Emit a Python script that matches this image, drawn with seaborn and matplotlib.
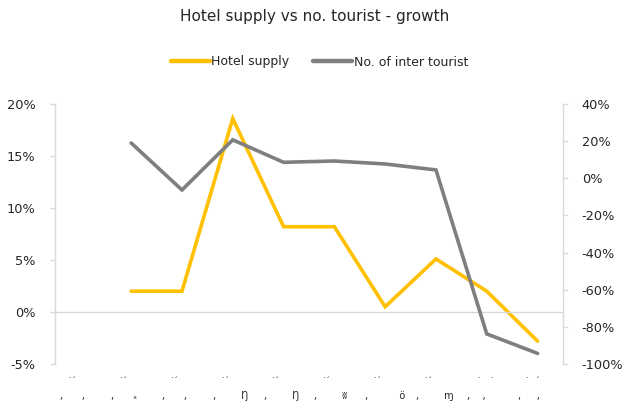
import numpy as np
import pandas as pd
import seaborn as sns
import matplotlib
matplotlib.use("Agg")
import matplotlib.pyplot as plt
from matplotlib.ticker import FixedLocator, FuncFormatter
from matplotlib.lines import Line2D

# ---- data -------------------------------------------------------------
periods = list(range(10))
hotel_supply = [np.nan, 2.0, 2.0, 18.6, 8.2, 8.2, 0.5, 5.1, 2.0, -2.8]        # % growth (left axis)
inter_tourist = [np.nan, 19.0, -6.3, 20.7, 8.6, 9.3, 7.7, 4.5, -83.8, -94.3]  # % growth (right axis)

# category labels, drawn in two rows below the plot
label_top = ["˙ˊ", "˙ˊ", "˙ˊ", "˙ˊ", "˙ˊ", "˙ˊ", "˙ˊ", "˙ˊ", " ˙   ˙", "˙  ˊ"]
label_bottom = [",      ,", ",      ₓ", ",      ,", ",        Ŋ", ",        Ŋ",
                ",        ʬ", ",          ö", ",        ɱ", ",    ,", ",     ,"]

left_ticks = [-5, 0, 5, 10, 15, 20]
right_ticks = [-100, -80, -60, -40, -20, 0, 20, 40]

title = "Hotel supply vs no. tourist - growth"
series_names = ["Hotel supply", "No. of inter tourist"]

# ---- style ------------------------------------------------------------
sns.set_style("white")
plt.rcParams["font.family"] = ["DejaVu Sans"]
YELLOW = "#FFC000"
GREY = "#7F7F7F"
AXIS = "#D9D9D9"
TEXT = "#262626"

df = pd.DataFrame({"period": periods, "hotel": hotel_supply, "tourist": inter_tourist})

fig = plt.figure(figsize=(6.29, 4.19), dpi=100)
ax = fig.add_axes([0.0874, 0.1313, 0.8076, 0.6205])
ax2 = ax.twinx()

sns.lineplot(data=df, x="period", y="hotel", ax=ax, color=YELLOW, linewidth=2.6,
             solid_joinstyle="miter", legend=False)
sns.lineplot(data=df, x="period", y="tourist", ax=ax2, color=GREY, linewidth=2.6,
             solid_joinstyle="miter", legend=False)

ax.set_xlim(-0.5, len(periods) - 0.5)
ax.set_ylim(left_ticks[0], left_ticks[-1])
ax2.set_ylim(right_ticks[0], right_ticks[-1])

pct = FuncFormatter(lambda v, _: f"{v:.0f}%")
ax.yaxis.set_major_locator(FixedLocator(left_ticks))
ax.yaxis.set_major_formatter(pct)
ax2.yaxis.set_major_locator(FixedLocator(right_ticks))
ax2.yaxis.set_major_formatter(pct)

# category axis crosses the left scale at zero, boundaries ticked
ax.xaxis.set_major_locator(FixedLocator(np.arange(-0.5, len(periods), 1.0)))
ax.set_xticklabels([])
ax.spines["bottom"].set_position(("data", 0))
for a in (ax, ax2):
    a.set_xlabel("")
    a.set_ylabel("")
    for s in a.spines.values():
        s.set_color(AXIS)
        s.set_linewidth(1.0)
ax.spines["top"].set_visible(False)
ax.spines["right"].set_visible(False)
ax2.spines["top"].set_visible(False)
ax2.spines["bottom"].set_visible(False)
ax2.spines["left"].set_visible(False)

ax.tick_params(axis="x", direction="out", length=3.6, width=1.0, color=AXIS)
ax.tick_params(axis="y", direction="out", length=3.6, width=1.0, color=AXIS,
               labelsize=9.3, labelcolor=TEXT, pad=10.5)
ax2.tick_params(axis="y", direction="out", length=3.6, width=1.0, color=AXIS,
                labelsize=9.3, labelcolor=TEXT, pad=10)

for i, (top, bottom) in enumerate(zip(label_top, label_bottom)):
    ax.annotate(top, xy=(periods[i], 0), xycoords=("data", "axes fraction"),
                xytext=(-9.4, -12.5), textcoords="offset points",
                ha="left", va="center", fontsize=6.5, color=TEXT)
    ax.annotate(bottom, xy=(periods[i], 0), xycoords=("data", "axes fraction"),
                xytext=(-14.4, -25.5), textcoords="offset points",
                ha="left", va="baseline", fontsize=7, color=TEXT)

fig.text(0.5, 1 - 16 / 419, title, ha="center", va="center", fontsize=11, color=TEXT)

handles = [Line2D([], [], color=YELLOW, linewidth=3.2),
           Line2D([], [], color=GREY, linewidth=3.2)]
fig.legend(handles, series_names, loc="center", bbox_to_anchor=(0.508, 1 - 62 / 419),
           ncol=2, frameon=False, fontsize=9, handlelength=3.1, handletextpad=0.15,
           columnspacing=1.9, labelcolor=TEXT)

fig.savefig("out.png", dpi=100)
